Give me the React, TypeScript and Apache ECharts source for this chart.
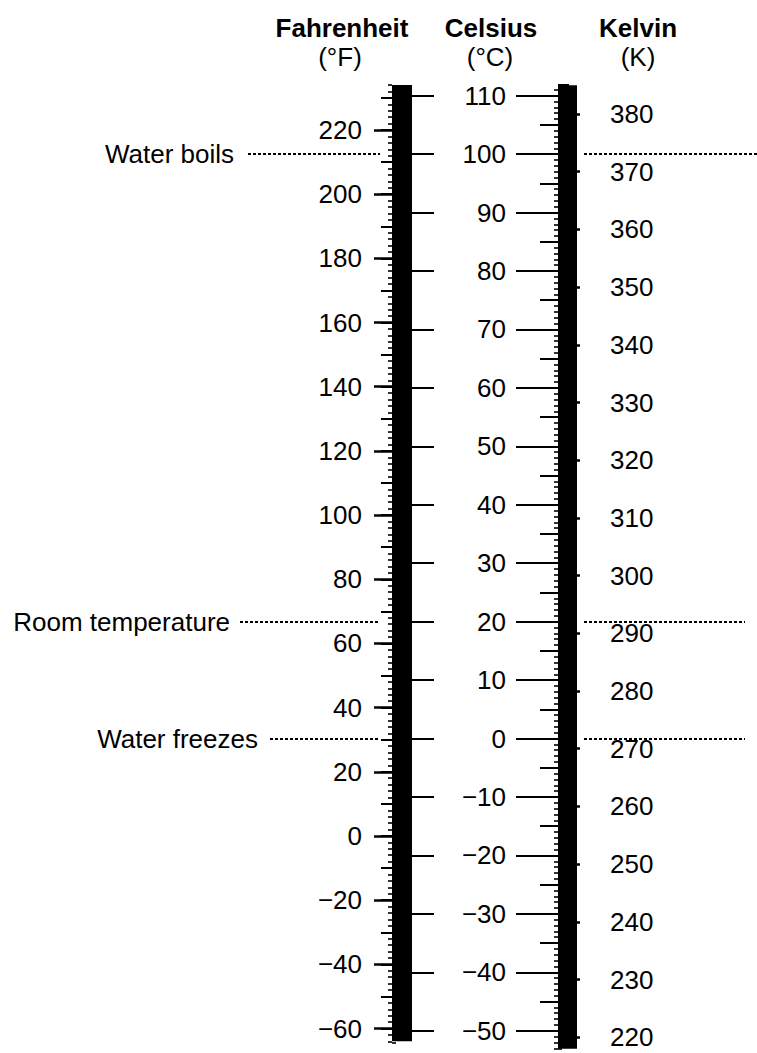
import React, { useEffect, useRef } from 'react';
import * as echarts from 'echarts';

// ---------- data ----------
const scaleNames = ['Fahrenheit', 'Celsius', 'Kelvin'];
const scaleUnits = ['(°F)', '(°C)', '(K)'];
const fahrenheitTicks = [220, 200, 180, 160, 140, 120, 100, 80, 60, 40, 20, 0, -20, -40, -60];
const celsiusTicks = [110, 100, 90, 80, 70, 60, 50, 40, 30, 20, 10, 0, -10, -20, -30, -40, -50];
const kelvinTicks = [380, 370, 360, 350, 340, 330, 320, 310, 300, 290, 280, 270, 260, 250, 240, 230, 220];
const landmarkNames = ['Water boils', 'Room temperature', 'Water freezes'];
const landmarkCelsius = [100, 20, 0];
// extents of the black bars, in their own units
const fahrenheitBar = [-64, 234];
const kelvinBar = [218, 385];
const celsiusBarF = [-52, 111];
const celsiusBarK = [-53, 111];

// ---------- layout ----------
const FONT = '"Liberation Sans", Arial, Helvetica, sans-serif';
const FS = 26;
const pxF = (f: number) => 130 + (220 - f) * 3.209;
const pxC = (c: number) => 95.7 + (110 - c) * 5.844;
const pxK = (k: number) => 114 + (380 - k) * 5.77;
const F_L = 392, F_W = 20;
const K_L = 558, K_W = 19;
const titleX = [342, 491, 638];
const leftStart = [248, 240, 270];
const leftGap = [14, 10, 12];
const LEFT_END = 380;
const RIGHT_START = 584;
const rightEnd = [757, 745, 745];

const fmt = (v: number) => (v < 0 ? '\u2212' + Math.abs(v) : String(v));

function buildOption() {
  const grid: any[] = [];
  const xAxis: any[] = [];
  const yAxis: any[] = [];
  function addAxis(o: {
    px: (v: number) => number; min: number; max: number; interval: number;
    left: number; width: number; position: 'left' | 'right'; len: number; w: number;
    margin?: number; fill?: string;
  }) {
    const gi = grid.length;
    grid.push({
      left: o.left, width: o.width, top: o.px(o.max), height: o.px(o.min) - o.px(o.max),
      show: !!o.fill, backgroundColor: o.fill || 'transparent', borderWidth: 0,
    });
    xAxis.push({ type: 'value', gridIndex: gi, show: false, min: 0, max: 1 });
    yAxis.push({
      type: 'value', gridIndex: gi, position: o.position, min: o.min, max: o.max, interval: o.interval,
      axisLine: { show: false }, splitLine: { show: false },
      axisTick: { show: true, inside: false, length: o.len, lineStyle: { color: '#000', width: o.w } },
      axisLabel: o.margin != null
        ? { show: true, margin: o.margin, color: '#000', fontSize: FS, lineHeight: 28, fontFamily: FONT, formatter: fmt, showMinLabel: true, showMaxLabel: true }
        : { show: false },
    });
    return gi;
  }
  const fMin = Math.min(...fahrenheitTicks), fMax = Math.max(...fahrenheitTicks);
  const cMin = Math.min(...celsiusTicks), cMax = Math.max(...celsiusTicks);
  const kMin = Math.min(...kelvinTicks), kMax = Math.max(...kelvinTicks);
  const fStep = fahrenheitTicks[0] - fahrenheitTicks[1];
  const cStep = celsiusTicks[0] - celsiusTicks[1];
  const kStep = kelvinTicks[0] - kelvinTicks[1];

  // Fahrenheit bar + its scale (left side)
  addAxis({ px: pxF, min: fahrenheitBar[0], max: fahrenheitBar[1], interval: 2, left: F_L, width: F_W, position: 'left', len: 4, w: 1.6, fill: '#000' });
  addAxis({ px: pxF, min: fMin, max: fMax + fStep / 2, interval: fStep / 2, left: F_L, width: F_W, position: 'left', len: 11, w: 2 });
  addAxis({ px: pxF, min: fMin, max: fMax, interval: fStep, left: F_L, width: F_W, position: 'left', len: 18, w: 2.5, margin: 30 });
  // Celsius on the right side of the Fahrenheit bar
  addAxis({ px: pxC, min: celsiusBarF[0], max: celsiusBarF[1], interval: 1, left: F_L, width: F_W, position: 'right', len: 4, w: 1.6 });
  addAxis({ px: pxC, min: cMin, max: cMax, interval: cStep / 2, left: F_L, width: F_W, position: 'right', len: 16, w: 2 });
  addAxis({ px: pxC, min: cMin, max: cMax, interval: cStep, left: F_L, width: F_W, position: 'right', len: 42, w: 2 });
  // Celsius on the left side of the Kelvin bar (with labels)
  addAxis({ px: pxC, min: celsiusBarK[0], max: celsiusBarK[1], interval: 1, left: K_L, width: K_W, position: 'left', len: 4, w: 1.6 });
  addAxis({ px: pxC, min: cMin, max: cMax, interval: cStep / 2, left: K_L, width: K_W, position: 'left', len: 18, w: 2 });
  addAxis({ px: pxC, min: cMin, max: cMax, interval: cStep, left: K_L, width: K_W, position: 'left', len: 42, w: 2, margin: 52 });
  // Kelvin bar + its scale (right side)
  addAxis({ px: pxK, min: kelvinBar[0], max: kelvinBar[1], interval: 1, left: K_L, width: K_W, position: 'right', len: 4, w: 1.6, fill: '#000' });
  addAxis({ px: pxK, min: kMin, max: kelvinBar[1], interval: kStep / 2, left: K_L, width: K_W, position: 'right', len: 11, w: 2 });
  addAxis({ px: pxK, min: kMin, max: kMax, interval: kStep, left: K_L, width: K_W, position: 'right', len: 22, w: 2.5, margin: 33 });

  // full-width grid for the landmark lines (Celsius vertical scale, pixel-like horizontal)
  const ri = grid.length;
  grid.push({ left: 0, width: 757, top: pxC(cMax), height: pxC(cMin) - pxC(cMax), show: false });
  xAxis.push({ type: 'value', gridIndex: ri, show: false, min: 0, max: 757 });
  yAxis.push({ type: 'value', gridIndex: ri, show: false, min: cMin, max: cMax });

  const dotted = { color: '#000', type: [3, 2], width: 1.8 };
  const series: any[] = [
    {
      type: 'line', xAxisIndex: ri, yAxisIndex: ri, data: [], silent: true,
      markLine: {
        symbol: ['none', 'none'], silent: true, lineStyle: dotted,
        label: { show: true, position: 'start', color: '#000', fontSize: FS, fontFamily: FONT },
        data: landmarkNames.map((name, i) => [
          { coord: [leftStart[i], landmarkCelsius[i]], name, label: { formatter: name, distance: leftGap[i] } },
          { coord: [LEFT_END, landmarkCelsius[i]] },
        ]),
      },
    },
    {
      type: 'line', xAxisIndex: ri, yAxisIndex: ri, data: [], silent: true,
      markLine: {
        symbol: ['none', 'none'], silent: true, lineStyle: dotted, label: { show: false },
        data: landmarkCelsius.map((c, i) => [
          { coord: [RIGHT_START, c] },
          { coord: [rightEnd[i], c] },
        ]),
      },
    },
  ];

  const graphic: any[] = [];
  scaleNames.forEach((n, i) => {
    graphic.push({ type: 'text', x: titleX[i], y: 28, style: { text: n, font: `bold ${FS}px ${FONT}`, fill: '#000', textAlign: 'center', textVerticalAlign: 'middle' } });
    graphic.push({ type: 'text', x: titleX[i] - (i === 0 ? 2 : i === 1 ? 1 : 0), y: 57, style: { text: scaleUnits[i], font: `${FS}px ${FONT}`, fill: '#000', textAlign: 'center', textVerticalAlign: 'middle' } });
  });

  return {
    animation: false,
    backgroundColor: '#fff',
    textStyle: { fontFamily: FONT },
    grid, xAxis, yAxis, series, graphic,
  };
}

export default function App() {
  const ref = useRef<HTMLDivElement>(null);
  useEffect(() => {
    document.body.style.margin = '0';
    const chart = echarts.init(ref.current!, null, { renderer: 'svg' });
    chart.setOption(buildOption() as any);
    return () => chart.dispose();
  }, []);
  return <div ref={ref} style={{ position: 'absolute', left: 0, top: 0, width: 757, height: 1053, background: '#fff' }} />;
}
